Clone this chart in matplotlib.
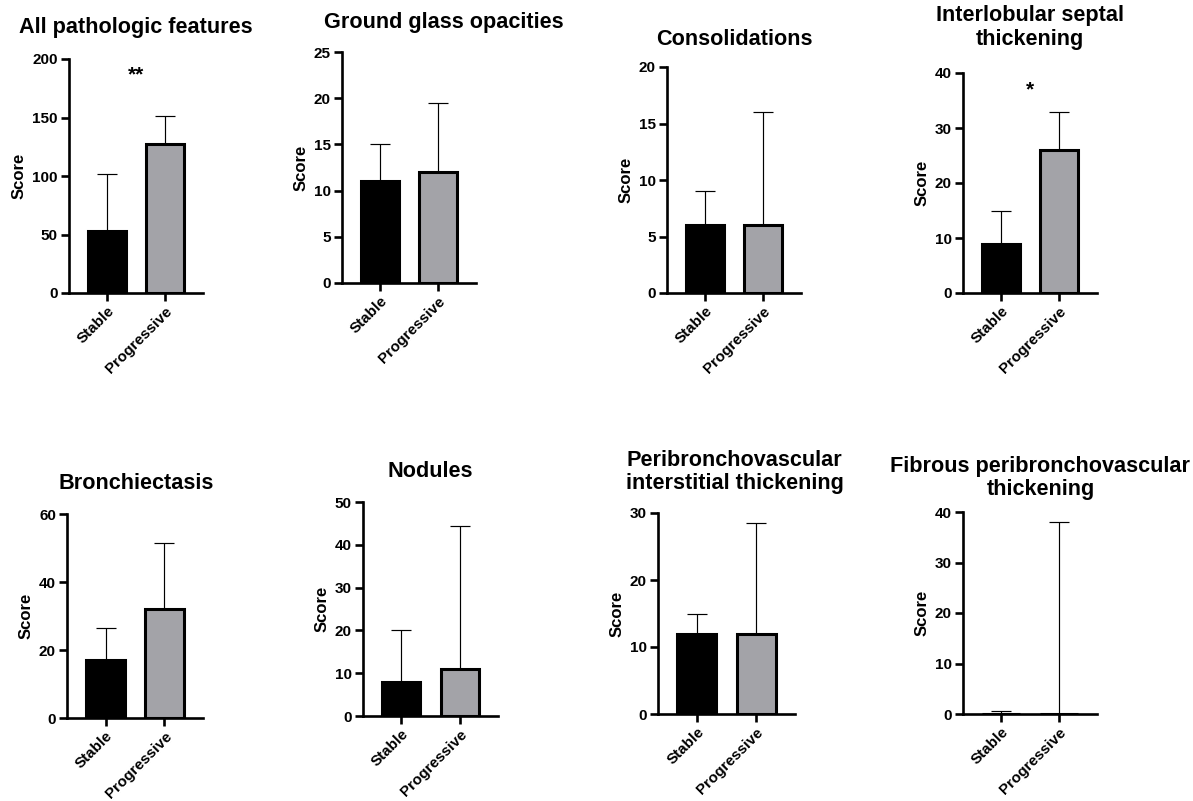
import matplotlib.pyplot as plt
import numpy as np

plt.rcParams['font.family'] = ['Liberation Sans', 'DejaVu Sans']
plt.rcParams['font.weight'] = 'bold'

groups = ['Stable', 'Progressive']
titles = ['All pathologic features', 'Ground glass opacities', 'Consolidations',
          'Interlobular septal\nthickening', 'Bronchiectasis', 'Nodules',
          'Peribronchovascular\ninterstitial thickening',
          'Fibrous peribronchovascular\nthickening']
means = [[53, 127], [11, 12], [6, 6], [9, 26], [17, 32], [8, 11], [12, 12], [0, 0]]
upper = [[102, 151], [15, 19.5], [9, 16], [15, 33], [26.5, 51.5], [20, 44.5],
         [15, 28.5], [0.5, 38]]
ymax = [200, 25, 20, 40, 60, 50, 30, 40]
ystep = [50, 5, 5, 10, 20, 10, 10, 10]
stars = ['**', '', '', '*', '', '', '', '']
star_y = [186, 0, 0, 37, 0, 0, 0, 0]

# axes boxes in pixels: left, right, top, bottom
boxes = [(69, 203, 59, 293), (342, 476, 52, 283), (667, 801, 67, 293),
         (963, 1097, 73, 293), (67, 203, 514, 718), (363, 498, 502, 716),
         (658, 795, 513, 714), (963, 1097, 512, 714)]
title_pad = [18.7, 17.3, 15.8, 20.5, 18, 18, 17.3, 12.2]
title_x = [0.5, 0.76, 0.5, 0.5, 0.51, 0.5, 0.56, 0.578]

W, H = 1193, 801
fig = plt.figure(figsize=(W / 100, H / 100), dpi=100)
colors = ['black', '#a3a3a8']

for i in range(8):
    l, r, t, b = boxes[i]
    ax = fig.add_axes([l / W, 1 - b / H, (r - l) / W, (b - t) / H])
    x = np.arange(2)
    m = np.array(means[i])
    err = np.array(upper[i]) - m
    ax.errorbar(x, m, yerr=[np.zeros(2), err], fmt='none', ecolor='black',
                elinewidth=0.85, capsize=7.4, capthick=0.85, zorder=1)
    ax.bar(x, m, width=0.655, color=colors, edgecolor='black', linewidth=2.2,
           zorder=2)
    ax.set_xlim(-0.655, 1.655)
    ax.set_ylim(0, ymax[i])
    ax.set_yticks(np.arange(0, ymax[i] + 1, ystep[i]))
    ax.set_xticks(x)
    ax.set_xticklabels(groups, rotation=45, ha='right', va='top',
                       rotation_mode='anchor')
    for s in ['top', 'right']:
        ax.spines[s].set_visible(False)
    for s in ['left', 'bottom']:
        ax.spines[s].set_linewidth(1.9)
    ax.tick_params(width=1.9, length=6, pad=2, labelsize=11)
    ax.set_ylabel('Score', fontsize=12, fontweight='bold')
    ax.set_title(titles[i], fontsize=15.6, fontweight='bold', pad=title_pad[i],
                 linespacing=1.15, x=title_x[i])
    if stars[i]:
        ax.text(0.5, star_y[i], stars[i], ha='center', va='center',
                fontsize=15, fontweight='bold')

fig.savefig('out.png', dpi=100)
